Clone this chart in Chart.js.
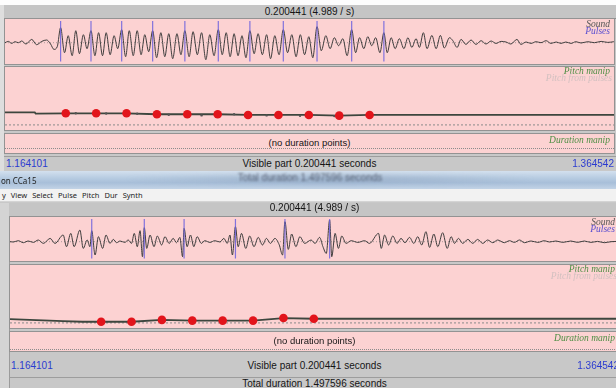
<!DOCTYPE html>
<html>
<head>
<meta charset="utf-8">
<title>Manipulation</title>
<script src="https://cdn.jsdelivr.net/npm/chart.js@4.4.1/dist/chart.umd.min.js"></script>
<style>
html,body{margin:0;padding:0}
body{width:616px;height:388px;overflow:hidden;position:relative;background:#c8c8c8;
  font-family:"Liberation Sans",Arial,sans-serif;color:#151515}
.blk{position:absolute}
.pane{position:absolute;background:#fcd2d2;outline:1px solid #939393}
.pane canvas{position:absolute;left:0;top:0}
.t{position:absolute;white-space:nowrap;line-height:1;font-size:10px;transform:translate(-50%,-50%)}
.t.l{transform:translate(0,-50%)}
.t.r{transform:translate(-100%,-50%)}
.tag{position:absolute;white-space:nowrap;line-height:1;font-family:"Liberation Serif","DejaVu Serif",serif;
  font-style:italic;font-size:9.5px;transform:translate(-100%,-50%)}
.num{color:#2b3bd0}
.dots{position:absolute;height:0;border-top:1px dotted #8c8c8c}
.menu{position:absolute;top:189px;left:0;width:616px;height:13px;background:#f2f2f2;border-bottom:1px solid #d4d4d4;
  font-family:"Noto Sans",sans-serif;font-size:7.5px;color:#222;display:flex;align-items:center;gap:5px;padding-left:2px;box-sizing:border-box}
</style>
</head>
<body>
<script>
// Visible part of the sound: 1.164101 s … 1.364542 s; all times below are ms from its left edge.
const SPAN_MS = 200.441;
const visibleStartLabel = "1.164101";
const visibleEndLabel = "1.364542";
const visiblePartLabel = "Visible part 0.200441 seconds";
const zoomLabel = "0.200441 (4.989 / s)";
const totalLabel = "Total duration 1.497596 seconds";
const menuItems = ["y", "View", "Select", "Pulse", "Pitch", "Dur", "Synth"];
const PITCH_FLOOR_HZ = 50;

// ---------- first manipulation window ----------
const pulsesA = [18.3, 28.3, 38.4, 48.6, 59.2, 70.2, 80.6, 91.6, 102.7, 114.1, 124.7];

const waveA_ms = [0, 1.1, 2.2, 3.3, 4.4, 5.5, 6.9, 8.8, 10.4, 12.1, 13.7, 15.0, 16.1, 17.2,
  18.3, 19.6, 20.8, 22.1, 23.3, 24.5, 25.8, 27.0,
  28.3, 29.6, 30.8, 32.1, 33.3, 34.6, 35.9, 37.1,
  38.4, 39.7, 40.9, 42.2, 43.5, 44.8, 46.0, 47.3,
  48.6, 49.9, 51.3, 52.6, 53.9, 55.2, 56.6, 57.9,
  59.2, 60.6, 61.9, 63.3, 64.7, 66.1, 67.4, 68.8,
  70.2, 71.5, 72.8, 74.1, 75.4, 76.7, 78.0, 79.3,
  80.6, 82.0, 83.3, 84.7, 86.1, 87.4, 88.8, 90.2,
  91.6, 93.0, 94.4, 95.8, 97.2, 98.6, 100.0, 101.3,
  102.7, 104.1, 105.6, 107.0, 108.4, 109.8, 111.2, 112.6,
  114.1, 115.4, 116.7, 118.1, 119.4, 120.7, 122.0, 123.4,
  124.7, 125.8, 127.1, 128.4, 129.8, 131.3, 132.6, 133.9, 135.3, 136.4,
  137.7, 138.9, 140.5, 141.9, 143.3, 144.6, 146.3, 147.4, 148.8, 150.1,
  151.7, 153.4, 155.0, 156.7, 158.3, 160.0, 161.6, 163.3, 164.9, 166.5,
  168.5, 169.8, 171.5, 173.1, 174.8, 176.4, 178.1, 179.7, 181.4, 183.0,
  184.6, 186.3, 187.9, 189.6, 191.8, 194.0, 196.2, 198.4, 200.4];
const waveA_amp = [0, 1.3, -0.7, 1, 0, 1.7, -1.3, 3.3, -2, 1.3, 2.7, -1.3, -6.7, -4,
  15, -10, 7, -13, 12, -11, 8, -6,
  12, -13, 10, -13, 10, -12, 7, -6,
  13, -14, 12, -13, 12, -12, 8, -9,
  12, -15, 10, -14, 9, -16, 9, -12,
  12, -14, 11, -12, 10, -17, 8, -13,
  13, -12, 10, -14, 9, -13, 7, -15,
  12, -11, 9, -12, 8, -16, 7, -12,
  13, -10, 8, -14, 8, -12, 6, -15,
  16, -8, 7, -6, 5, -3, 4, -13,
  13, -10, 5, -6, 6, -3, 5, -10,
  10, -10, 5, -6, 4, -6, 5, -4.7, 4, -4.7,
  10, -6, 7.3, -6, 7.3, -5.3, 5, 2, -4.7, 3.3,
  -1.7, 2.7, -1.7, 2, -1.3, 1.7, -0.7, 1.3, 0.7, -1.3,
  3.3, -1.7, 0.7, -0.7, 1, 0, 2, -0.7, 0.7, -0.7,
  0.7, -0.7, 1, -0.3, 1, 0, 1.3, 0.3, 1];

const pitchA_pointMs = [20, 30, 40, 50, 60, 70, 80, 90, 100, 110, 120];
const pitchA_pointHz = [100, 100, 100, 96, 96, 96, 93, 93, 93, 90, 93];
const pitchA_leadMs = [0, 9.8, 10.1];
const pitchA_leadHz = [104, 104, 99];
const pitchA_fromPulsesMs = [23.3, 33.3, 43.5, 53.9, 64.7, 75.4, 86.1, 97.1, 108.4, 119.4];
const pitchA_fromPulsesHz = [100, 99, 98, 94, 91, 96, 91, 89, 88, 94];

// ---------- second manipulation window ----------
const pulsesB = [26.9, 44.2, 57.3, 74.2, 90.5, 105.2];

const waveB_ms = [0, 1.1, 2.7, 4.4, 6.0, 7.7, 9.3, 11.0, 13.2, 14.8,
  17.5, 18.6, 20.0, 21.1, 23.0, 24.1, 25.4, 26.3, 26.9, 28.0,
  29.1, 30.5, 31.6, 32.9, 34.0, 35.1, 36.2, 37.8, 38.9, 40.0,
  40.9, 41.9, 42.8, 43.6, 44.2, 45.0, 46.1, 47.4, 48.5, 49.9,
  51.0, 52.4, 53.7, 54.8, 55.9, 56.8, 57.3, 58.3, 59.4, 60.5,
  61.6, 63.0, 64.1, 65.8, 67.4, 69.1, 70.4, 71.5, 72.4, 73.2,
  74.2, 75.1, 76.2, 77.6, 78.9, 80.3, 81.7, 83.1, 84.4, 85.7,
  87.2, 88.6, 89.7, 90.5, 91.6, 92.7, 94.1, 95.4, 97.0, 99.1,
  100.4, 101.9, 103.0, 104.1, 105.2, 105.9, 107.0, 108.1, 109.2, 110.6,
  112.3, 114.5, 116.7, 118.3, 121.3, 122.2, 123.3, 124.6, 126.0, 127.4,
  128.7, 130.0, 131.5, 132.9, 134.2, 135.5, 136.9, 138.1, 139.5, 140.8,
  142.4, 143.9, 145.2, 146.3, 147.6, 149.0, 150.7, 152.3, 153.9, 155.6,
  157.2, 158.9, 160.5, 162.7, 164.4, 166.0, 167.7, 169.3, 171.5, 173.7,
  175.9, 177.5, 179.7, 181.9, 184.6, 186.8, 189.0, 191.2, 193.4, 195.6,
  197.8, 200.4];
const waveB_amp = [0, -0.3, 1, -1, 0.7, -0.7, 1.7, -1.7, 3.3, -1.7,
  6.7, -5, 8.3, -5, 11.7, -6.7, 1.7, -5, 11, -13.3,
  5, -6.7, 6.7, -1.7, 2.3, -1, 0.7, -0.7, 1.7, -1.7,
  8.3, -5, 11, -15, 14, -6.7, 6.7, -5, 5.7, -3.3,
  5, -1.7, 3.3, -1, 4.3, -15, 13.3, -5, 6.7, -5,
  5, -1.7, 1, -0.7, 1, -0.3, 3.3, -1.7, 6.7, -13.3,
  15, -5, 8.3, -6.7, 5.7, -5, 4.3, -3.3, 3.3, -1.7,
  3.3, -3, -13.3, 20, -7.7, 7.7, -5, 5, -1.7, 1.7,
  -1.7, 4.3, -5, -11.7, 21.7, -15, 8.3, -6.7, 5.7, -1.7,
  1, -0.7, 1, -1.7, 8.3, -6.7, 6.7, -3.3, 5.7, -1.7,
  3.3, -1, 4.3, -1.7, 5, -3.3, 10, -5.7, 7.7, -5,
  9, -6.7, 5, -1.7, 3.3, -1.7, 2.3, -1.7, 2.3, -1.7,
  1.7, -1, 1.7, -1, 1, -0.7, 1.7, -1, 0.7, -0.7,
  1, -0.3, 0.7, -0.7, 0.7, -0.7, 0.7, -0.7, 0.3, -1,
  0, 0.3];

const pitchB_pointMs = [30, 40, 50, 60, 70, 80, 90, 100];
const pitchB_pointHz = [55, 55, 63, 60, 60, 60, 71, 68];
const pitchB_leadMs = [0, 17.4, 23.8];
const pitchB_leadHz = [66, 58, 55];
const pitchB_fromPulsesMs = [];
const pitchB_fromPulsesHz = [];

// ---------- drawing ----------
const W = 609;

function el(cls, css, text) {
  const d = document.createElement("div");
  if (cls) d.className = cls;
  Object.assign(d.style, css);
  if (text !== undefined) d.textContent = text;
  document.body.appendChild(d);
  return d;
}
const px = v => v + "px";

function pairs(xs, ys) { return xs.map((x, i) => ({ x, y: ys[i] })); }

function chartOn(parent, w, h, yMin, yMax, datasets) {
  const c = document.createElement("canvas");
  c.width = w; c.height = h;
  parent.appendChild(c);
  return new Chart(c, {
    type: "line",
    data: { datasets },
    options: {
      responsive: false, animation: false, events: [],
      layout: { padding: 0, autoPadding: false },
      scales: {
        x: { type: "linear", min: 0, max: SPAN_MS, display: false },
        y: { type: "linear", min: yMin, max: yMax, display: false }
      },
      plugins: { legend: { display: false }, tooltip: { enabled: false } },
      elements: { point: { radius: 0 } }
    }
  });
}

function buildWindow(L, d) {
  const cx = L.ox + W / 2;
  // zoom / title bar
  el("blk", { left: px(L.ox - 1), top: px(L.titleTop), width: px(616 - L.ox + 1), height: px(L.waveTop - L.titleTop - 1),
    background: "#c5c5c5", borderBottom: "1px solid #8d8d8d" });
  el("t", { left: px(cx), top: px(L.titleY) }, zoomLabel);

  // sound + pulses
  const wp = el("pane", { left: px(L.ox), top: px(L.waveTop), width: px(W), height: px(L.waveH) });
  const pulseSegs = d.pulses.flatMap(t => [{ x: t, y: L.waveMax - 2 }, { x: t, y: L.waveMin + 2.5 }, { x: t, y: null }]);
  chartOn(wp, W, L.waveH, L.waveMin, L.waveMax, [
    { data: pulseSegs, borderColor: "rgba(108,98,222,0.85)", borderWidth: 1.2, spanGaps: false, pointRadius: 0 },
    { data: pairs(d.waveMs, d.waveAmp), borderColor: "#363636", borderWidth: 0.95, cubicInterpolationMode: "monotone", pointRadius: 0 },
    { data: [{ x: 0, y: 0 }, { x: SPAN_MS, y: 0 }], borderColor: "rgba(110,110,110,0.55)", borderWidth: 1, borderDash: [1, 2], pointRadius: 0 }
  ]);
  el("tag", { left: px(L.ox + 605), top: px(L.waveTop + 6), color: "#555" }, "Sound");
  el("tag", { left: px(L.ox + 605), top: px(L.waveTop + 12.5), color: "#5b4fd0" }, "Pulses");

  // pitch manipulation
  const pp = el("pane", { left: px(L.ox), top: px(L.pitchTop), width: px(W), height: px(L.pitchH) });
  const lastHz = d.pointHz[d.pointHz.length - 1];
  const lineData = pairs(d.leadMs, d.leadHz).concat(pairs(d.pointMs, d.pointHz), [{ x: SPAN_MS, y: lastHz }]);
  chartOn(pp, W, L.pitchH, 28, 300, [
    { data: pairs(d.pointMs, d.pointHz), showLine: false, pointRadius: 4.3, pointBackgroundColor: "#e2141b", pointBorderWidth: 0 },
    { data: pairs(d.fpMs, d.fpHz), showLine: false, pointRadius: 1.2, pointBackgroundColor: "#555", pointBorderWidth: 0 },
    { data: lineData, borderColor: "#3d463e", borderWidth: 1.8, pointRadius: 0 },
    { data: [{ x: 0, y: PITCH_FLOOR_HZ }, { x: SPAN_MS, y: PITCH_FLOOR_HZ }], borderColor: "#8a8a8a", borderWidth: 1, borderDash: [2, 2], pointRadius: 0 }
  ]);
  el("tag", { left: px(L.ox + 605), top: px(L.pitchTop + 5), color: "#4f8f45" }, "Pitch manip");
  el("tag", { left: px(L.ox + 607), top: px(L.pitchTop + 11.5), color: "#d2c0c0" }, "Pitch from pulses");

  // duration manipulation
  el("pane", { left: px(L.ox), top: px(L.durTop), width: px(W), height: px(L.durH) });
  el("dots", { left: px(L.ox), top: px(L.durTop + L.durDots), width: px(W) });
  el("t", { left: px(cx), top: px(L.durTop + 9), fontSize: "9.5px" }, "(no duration points)");
  el("tag", { left: px(L.ox + 605), top: px(L.durTop + 6.5), color: "#4f8f45" }, "Duration manip");

  // bottom labels
  el("blk", { left: px(L.ox - 1), top: px(L.lineY), width: px(616), height: "1px", background: "#9d9d9d" });
  el("t l num", { left: px(L.ox + 1), top: px(L.labelY) }, visibleStartLabel);
  el("t", { left: px(cx), top: px(L.labelY) }, visiblePartLabel);
  el("t r num", { left: px(L.ox + W), top: px(L.labelY) }, visibleEndLabel);
}

// chrome between the two windows
el("blk", { left: "0px", top: "0px", width: "616px", height: "5px", background: "#fdfdfd" });
el("blk", { left: "0px", top: "5px", width: "4px", height: "166px", background: "#dedede" });

buildWindow(
  { ox: 5, titleTop: 5, titleY: 12, waveTop: 19, waveH: 45, waveMin: -21.3, waveMax: 23.7,
    pitchTop: 67, pitchH: 63, durTop: 134, durH: 19, durDots: 13.5, lineY: 156, labelY: 164 },
  { pulses: pulsesA, waveMs: waveA_ms, waveAmp: waveA_amp,
    pointMs: pitchA_pointMs, pointHz: pitchA_pointHz, leadMs: pitchA_leadMs, leadHz: pitchA_leadHz,
    fpMs: pitchA_fromPulsesMs, fpHz: pitchA_fromPulsesHz });

// window title bar of the second editor, with the text of the one behind showing through
el("blk", { left: "0px", top: "171px", width: "616px", height: "18px",
  background: "linear-gradient(180deg,#d3e0ee 0%,#b6cbe1 40%,#a8bfd9 65%,#c2d3e6 100%)" });
el("blk", { left: "120px", top: "173px", width: "420px", height: "12px",
  background: "radial-gradient(ellipse at center, rgba(120,140,170,0.45), rgba(120,140,170,0) 70%)", filter: "blur(2px)" });
el("t", { left: "310px", top: "177.5px", color: "rgba(40,46,64,0.65)", filter: "blur(1.2px)" }, totalLabel);
el("t l", { left: "1px", top: "180.5px", fontFamily: "'Noto Sans',sans-serif", fontSize: "8px", color: "#222" }, "on CCa15");
const menu = el("menu", {});
menuItems.forEach(m => { const s = document.createElement("span"); s.textContent = m; menu.appendChild(s); });

el("blk", { left: "0px", top: "203px", width: "9px", height: "185px", background: "#d4d4d4", borderRight: "1px solid #9b9b9b" });

buildWindow(
  { ox: 10, titleTop: 203, titleY: 208, waveTop: 217, waveH: 44, waveMin: -19.3, waveMax: 24.7,
    pitchTop: 265, pitchH: 63, durTop: 332, durH: 19, durDots: 16.5, lineY: 376.5, labelY: 366 },
  { pulses: pulsesB, waveMs: waveB_ms, waveAmp: waveB_amp,
    pointMs: pitchB_pointMs, pointHz: pitchB_pointHz, leadMs: pitchB_leadMs, leadHz: pitchB_leadHz,
    fpMs: pitchB_fromPulsesMs, fpHz: pitchB_fromPulsesHz });

el("t", { left: "314.5px", top: "383.5px" }, totalLabel);
</script>
</body>
</html>
